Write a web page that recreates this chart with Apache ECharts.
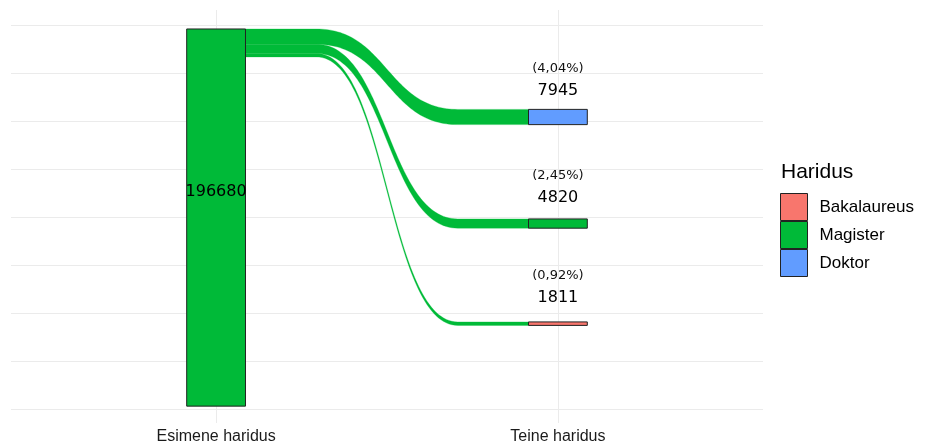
<!DOCTYPE html>
<html>
<head>
<meta charset="utf-8">
<script src="https://cdn.jsdelivr.net/npm/echarts@6/dist/echarts.min.js"></script>
<style>html,body{margin:0;padding:0;background:#fff;}#c{width:927px;height:446px;}</style>
</head>
<body>
<div id="c"></div>
<script>
// ---- data ----
const stages = ['Esimene haridus', 'Teine haridus'];
const levels = ['Bakalaureus', 'Magister', 'Doktor'];
const firstLevel = 'Magister';
const firstTotal = 196680;
const firstBottom = 1500;                 // where the first stratum starts on the y scale
const secondCounts = [1811, 4820, 7945];  // Bakalaureus, Magister, Doktor
const secondBottom = [43600, 94300, 148300];
const gridValues = [0, 25000, 50000, 75000, 100000, 125000, 150000, 175000, 200000];

// ---- styles ----
const colors = { Bakalaureus: '#F8766D', Magister: '#00BA38', Doktor: '#619CFF' };
const flowColor = '#00BA38';
const nodeWidth = 0.172;
const labelFont = 'DejaVu Sans';
const axisFont = 'Liberation Sans';

function pctText(n) {
  return '(' + (n / firstTotal * 100).toFixed(2).replace('.', ',') + '%)';
}

// flows: stacked from the top of the first stratum, topmost goes to the highest second stratum
const flowData = [];
let cursor = firstBottom + firstTotal;
[2, 1, 0].forEach(function (i) {
  const n = secondCounts[i];
  flowData.push([cursor - n, cursor, secondBottom[i], secondBottom[i] + n]);
  cursor -= n;
});

function strataFor(level) {
  const d = [];
  if (level === firstLevel) d.push([1, firstBottom, firstBottom + firstTotal, firstTotal, 0]);
  const i = levels.indexOf(level);
  d.push([2, secondBottom[i], secondBottom[i] + secondCounts[i], secondCounts[i], 1]);
  return d;
}

function curvePoints(xa, xb, ya, yb, api) {
  const pts = [];
  const d = xb - xa;
  const f = 0.25;
  const s = xa + f * d, e = xb - f * d, m = (s + e) / 2;
  pts.push(api.coord([xa, ya]));
  const N = 70;
  for (let k = 0; k <= N; k++) {
    const t = k / N;
    const mt = 1 - t;
    const x = mt * mt * mt * s + 3 * mt * mt * t * m + 3 * mt * t * t * m + t * t * t * e;
    const y = mt * mt * mt * ya + 3 * mt * mt * t * ya + 3 * mt * t * t * yb + t * t * t * yb;
    pts.push(api.coord([x, y]));
  }
  pts.push(api.coord([xb, yb]));
  return pts;
}

function renderFlow(params, api) {
  const fb = api.value(0), ft = api.value(1), tb = api.value(2), tt = api.value(3);
  const xa = 1 + nodeWidth / 2, xb = 2 - nodeWidth / 2;
  const top = curvePoints(xa, xb, ft, tt, api);
  const bot = curvePoints(xa, xb, fb, tb, api).reverse();
  return {
    type: 'polygon',
    shape: { points: top.concat(bot) },
    style: { fill: flowColor, stroke: flowColor, lineWidth: 0.3 }
  };
}

function makeRenderStratum(level) {
  return function (params, api) {
    const x = api.value(0), y0 = api.value(1), y1 = api.value(2), n = api.value(3), second = api.value(4);
    const p0 = api.coord([x - nodeWidth / 2, y1]);
    const p1 = api.coord([x + nodeWidth / 2, y0]);
    const cx = (p0[0] + p1[0]) / 2, cy = (p0[1] + p1[1]) / 2;
    const children = [{
      type: 'rect',
      shape: { x: p0[0], y: p0[1], width: p1[0] - p0[0], height: p1[1] - p0[1] },
      style: { fill: colors[level], stroke: '#222', lineWidth: 1 }
    }, {
      type: 'text',
      x: cx, y: cy - 26,
      style: { text: String(n), fill: '#000', font: '16px "' + labelFont + '"', align: 'center', verticalAlign: 'middle' }
    }];
    if (second) {
      children.push({
        type: 'text',
        x: cx, y: cy - 48,
        style: { text: pctText(n), fill: '#111', font: '13px "' + labelFont + '"', align: 'center', verticalAlign: 'middle' }
      });
    }
    return { type: 'group', children: children };
  };
}

const gridLineData = gridValues.map(function (v) { return { yAxis: v }; })
  .concat([{ xAxis: 1 }, { xAxis: 2 }]);

const series = [{
  type: 'line', name: 'grid', data: [], z: 1, silent: true,
  markLine: {
    z: 1, silent: true, symbol: ['none', 'none'], label: { show: false },
    lineStyle: { color: '#EBEBEB', width: 1, type: 'solid' },
    emphasis: { disabled: true },
    animation: false,
    data: gridLineData
  }
}, {
  type: 'custom', name: 'flows', z: 8, silent: true,
  renderItem: renderFlow,
  data: flowData
}].concat(levels.map(function (lv) {
  return {
    type: 'custom', name: lv, z: 9, silent: true,
    itemStyle: { color: colors[lv] },
    renderItem: makeRenderStratum(lv),
    data: strataFor(lv)
  };
}));

const chart = echarts.init(document.getElementById('c'), null, { renderer: 'canvas' });
chart.setOption({
  animation: false,
  backgroundColor: '#fff',
  title: {
    text: 'Haridus', left: 781, top: 162, padding: 0,
    textStyle: { fontSize: 21, fontWeight: 'normal', fontFamily: axisFont, color: '#000' }
  },
  legend: {
    data: levels, orient: 'vertical', left: 780, top: 193, padding: 0,
    itemWidth: 27, itemHeight: 27, itemGap: 0, icon: 'rect', selectedMode: false,
    itemStyle: { borderColor: '#222', borderWidth: 1 },
    textStyle: { fontSize: 17, fontFamily: axisFont, color: '#000', padding: [0, 0, 0, 7] }
  },
  grid: { left: 11, right: 164, top: 10, bottom: 23, containLabel: false },
  xAxis: {
    type: 'value', min: 0.4, max: 2.6,
    axisLine: { show: false }, axisTick: { show: false }, splitLine: { show: false },
    axisLabel: {
      customValues: [1, 2],
      formatter: function (v) { return stages[Math.round(v) - 1] || ''; },
      fontSize: 16, fontFamily: axisFont, color: '#1a1a1a', margin: 6
    }
  },
  yAxis: {
    type: 'value', min: -7300, max: 208075, show: false,
    splitLine: { show: false }
  },
  series: series
});
</script>
</body>
</html>
